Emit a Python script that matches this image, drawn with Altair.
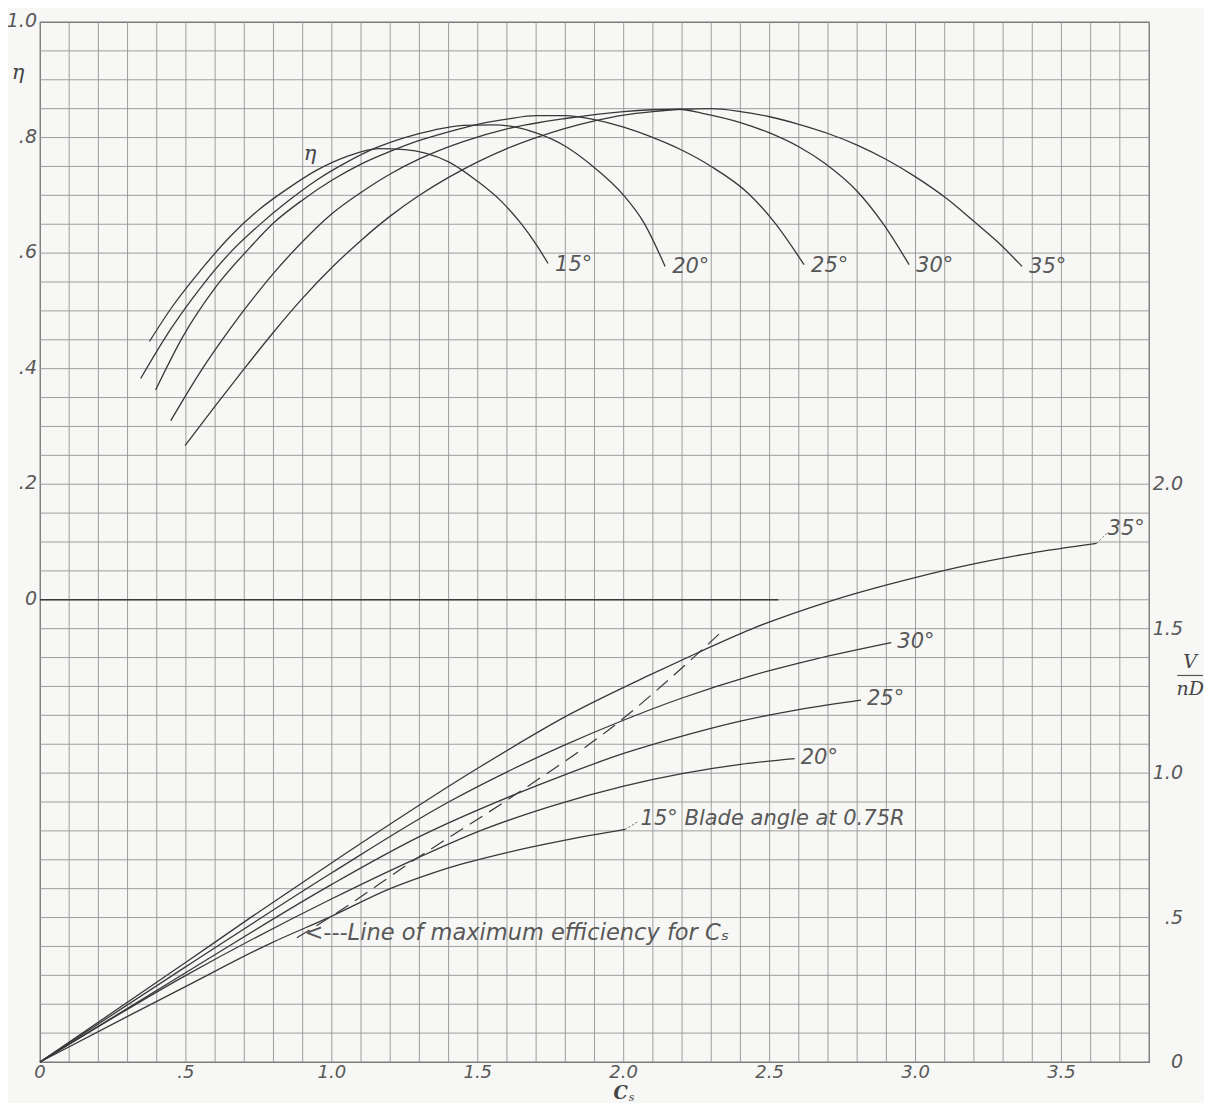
import altair as alt
import pandas as pd

# ---------------- data ----------------
angles = ["15°", "20°", "25°", "30°", "35°"]

# upper family: efficiency eta vs Cs
eta15_cs = [0.375, 0.45, 0.55, 0.65, 0.75, 0.85, 0.95, 1.05, 1.16, 1.25, 1.32, 1.40, 1.50, 1.58, 1.65, 1.70, 1.741]
eta15_v = [0.447, 0.505, 0.570, 0.628, 0.675, 0.712, 0.744, 0.767, 0.781, 0.779, 0.773, 0.758, 0.724, 0.690, 0.650, 0.615, 0.582]

eta20_cs = [0.345, 0.45, 0.55, 0.65, 0.75, 0.85, 0.95, 1.05, 1.15, 1.25, 1.35, 1.45, 1.55, 1.63, 1.70, 1.80, 1.89, 2.00, 2.07, 2.142]
eta20_v = [0.383, 0.470, 0.540, 0.600, 0.648, 0.690, 0.727, 0.757, 0.782, 0.800, 0.813, 0.821, 0.822, 0.818, 0.808, 0.785, 0.752, 0.700, 0.652, 0.577]

eta25_cs = [0.396, 0.49, 0.60, 0.72, 0.80, 0.90, 1.00, 1.10, 1.20, 1.30, 1.40, 1.50, 1.60, 1.70, 1.80, 1.90, 2.00, 2.09, 2.20, 2.30, 2.43, 2.52, 2.618]
eta25_v = [0.363, 0.456, 0.540, 0.610, 0.652, 0.692, 0.726, 0.754, 0.776, 0.795, 0.810, 0.823, 0.832, 0.838, 0.838, 0.831, 0.818, 0.802, 0.778, 0.750, 0.702, 0.651, 0.580]

eta30_cs = [0.448, 0.55, 0.65, 0.72, 0.80, 0.90, 1.00, 1.10, 1.20, 1.30, 1.45, 1.60, 1.80, 2.00, 2.19, 2.27, 2.40, 2.50, 2.60, 2.69, 2.80, 2.89, 2.978]
eta30_v = [0.310, 0.395, 0.468, 0.515, 0.565, 0.620, 0.668, 0.705, 0.737, 0.763, 0.793, 0.815, 0.833, 0.845, 0.849, 0.842, 0.826, 0.808, 0.784, 0.755, 0.707, 0.650, 0.580]

eta35_cs = [0.497, 0.60, 0.70, 0.80, 0.90, 1.00, 1.10, 1.20, 1.30, 1.40, 1.50, 1.60, 1.70, 1.80, 1.90, 2.00, 2.10, 2.20, 2.30, 2.40, 2.50, 2.60, 2.70, 2.80, 2.90, 3.00, 3.10, 3.20, 3.28, 3.365]
eta35_v = [0.267, 0.335, 0.400, 0.463, 0.522, 0.575, 0.622, 0.664, 0.700, 0.731, 0.758, 0.781, 0.800, 0.816, 0.829, 0.839, 0.845, 0.849, 0.850, 0.845, 0.836, 0.823, 0.807, 0.787, 0.762, 0.732, 0.697, 0.655, 0.620, 0.577]

# lower family: V/nD vs Cs
vnd15_cs = [0, 0.30, 0.50, 0.788, 1.00, 1.20, 1.30, 1.40, 1.60, 1.80, 2.005]
vnd15_v = [0, 0.158, 0.262, 0.410, 0.505, 0.600, 0.638, 0.672, 0.725, 0.768, 0.805]

vnd20_cs = [0, 0.50, 1.00, 1.291, 1.52, 1.75, 2.00, 2.20, 2.40, 2.586]
vnd20_v = [0, 0.300, 0.565, 0.705, 0.805, 0.885, 0.955, 0.998, 1.030, 1.050]

vnd25_cs = [0, 0.50, 1.00, 1.30, 1.634, 1.80, 2.00, 2.20, 2.40, 2.60, 2.813]
vnd25_v = [0, 0.310, 0.615, 0.780, 0.929, 0.995, 1.068, 1.128, 1.180, 1.220, 1.253]

vnd30_cs = [0, 0.50, 1.00, 1.40, 1.793, 1.982, 2.20, 2.433, 2.653, 2.917]
vnd30_v = [0, 0.330, 0.655, 0.900, 1.095, 1.176, 1.260, 1.336, 1.394, 1.452]

vnd35_cs = [0, 0.50, 0.72, 1.00, 1.497, 1.816, 2.09, 2.25, 2.433, 2.703, 2.995, 3.204, 3.388, 3.621]
vnd35_v = [0, 0.345, 0.499, 0.690, 1.015, 1.204, 1.340, 1.415, 1.497, 1.594, 1.676, 1.725, 1.760, 1.795]

# dashed line of maximum efficiency
maxeff_cs = [0.88, 1.00, 1.291, 1.634, 1.982, 2.25, 2.336]
maxeff_v = [0.430, 0.505, 0.705, 0.929, 1.176, 1.410, 1.490]

# heavy eta = 0 line
zero_line_cs = [0.0, 2.53]

# grid and tick labels
x_grid_values = [round(i * 0.1, 1) for i in range(39)]
eta_grid_values = [round(-0.8 + i * 0.05, 2) for i in range(37)]
x_label_values = [0, 0.5, 1.0, 1.5, 2.0, 2.5, 3.0, 3.5]
x_label_texts = ["0", ".5", "1.0", "1.5", "2.0", "2.5", "3.0", "3.5"]
eta_label_values = [0, 0.2, 0.4, 0.6, 0.8, 1.0]
eta_label_texts = ["0", ".2", ".4", ".6", ".8", "1.0"]
vnd_label_values = [0, 0.5, 1.0, 1.5, 2.0]
vnd_label_texts = ["0", ".5", "1.0", "1.5", "2.0"]

# ---------------- styling ----------------
FONT = "DejaVu Sans"
SERIF = "DejaVu Serif"
TXT = "#585858"
LINE = "#383838"
GRID = "#949494"
BG = "#f7f7f5"


def curves(xs_list, ys_list, yname):
    rows = []
    for a, xs, ys in zip(angles, xs_list, ys_list):
        for i, (x, y) in enumerate(zip(xs, ys)):
            rows.append({"angle": a, "cs": x, yname: y, "i": i})
    return pd.DataFrame(rows)


eta_df = curves([eta15_cs, eta20_cs, eta25_cs, eta30_cs, eta35_cs],
                [eta15_v, eta20_v, eta25_v, eta30_v, eta35_v], "eta")
vnd_df = curves([vnd15_cs, vnd20_cs, vnd25_cs, vnd30_cs, vnd35_cs],
                [vnd15_v, vnd20_v, vnd25_v, vnd30_v, vnd35_v], "vnd")

eta_end = eta_df.sort_values("i").groupby("angle").tail(1)
vnd_end = vnd_df.sort_values("i").groupby("angle").tail(1)

x_scale = alt.Scale(domain=[0, 3.8], nice=False, zero=False)
eta_scale = alt.Scale(domain=[-0.8, 1.0], nice=False, zero=False)
vnd_scale = alt.Scale(domain=[0, 3.6], nice=False, zero=False)

X = alt.X("cs:Q", scale=x_scale, axis=None)
YE = alt.Y("eta:Q", scale=eta_scale, axis=None)
YV = alt.Y("vnd:Q", scale=vnd_scale, axis=None)


def txt(df, y, **kw):
    base = dict(font=FONT, fontSize=20, fontStyle="italic", color=TXT, baseline="middle")
    base.update(kw)
    return alt.Chart(df).mark_text(**base).encode(x=X, y=y, text="t:N")


# ---------- efficiency group (left scale) ----------
vgrid = alt.Chart(pd.DataFrame({"cs": x_grid_values})).mark_rule(
    color=GRID, strokeWidth=0.9).encode(x=X)
hgrid = alt.Chart(pd.DataFrame({"eta": eta_grid_values})).mark_rule(
    color=GRID, strokeWidth=0.9).encode(y=YE)

eta_lines = alt.Chart(eta_df).mark_line(interpolate="monotone", color=LINE, strokeWidth=1.3).encode(
    x=X, y=YE, detail="angle:N", order="i:Q")

zero_df = pd.DataFrame({"cs": [zero_line_cs[0]], "cs2": [zero_line_cs[1]], "eta": [0.0]})
zero_rule = alt.Chart(zero_df).mark_rule(color="#3a3a3a", strokeWidth=1.4).encode(
    x=X, x2="cs2:Q", y=YE)

eta_end_df = eta_end.rename(columns={"angle": "t"})
eta_labels = txt(eta_end_df, YE, align="left", dx=7, dy=1, fontSize=21)

left_lab_df = pd.DataFrame({"cs": [0.0] * len(eta_label_values), "eta": eta_label_values,
                            "t": eta_label_texts})
left_labels = txt(left_lab_df, YE, align="right", dx=-3, dy=-1, fontSize=19)

bottom_lab_df = pd.DataFrame({"cs": x_label_values, "eta": [-0.8] * len(x_label_values),
                              "t": x_label_texts})
bottom_labels = txt(bottom_lab_df, YE, align="center", baseline="top", dy=2, fontSize=18)

eta_notes_df = pd.DataFrame({"cs": [0.925, -0.075], "eta": [0.772, 0.912], "t": ["η", "η"]})
eta_notes = txt(eta_notes_df, YE, align="center", font=SERIF, fontSize=21, color="#444")

eta_group = alt.layer(vgrid, hgrid, zero_rule, eta_lines, eta_labels, left_labels,
                      bottom_labels, eta_notes)

# ---------- V/nD group (right scale) ----------
vnd_lines = alt.Chart(vnd_df).mark_line(interpolate="monotone", color=LINE, strokeWidth=1.3).encode(
    x=X, y=YV, detail="angle:N", order="i:Q")

maxeff_df = pd.DataFrame({"cs": maxeff_cs, "vnd": maxeff_v, "i": list(range(len(maxeff_cs)))})
maxeff_line = alt.Chart(maxeff_df).mark_line(interpolate="monotone", color="#3a3a3a", strokeWidth=1.2,
                                             strokeDash=[15, 8]).encode(x=X, y=YV, order="i:Q")

end_lab = vnd_end[vnd_end["angle"].isin(["20°", "25°", "30°"])].rename(columns={"angle": "t"})
vnd_labels = txt(end_lab, YV, align="left", dx=6, dy=-1, fontSize=21)

note_df = pd.DataFrame({
    "cs": [3.658, 2.058],
    "vnd": [1.845, 0.840],
    "t": ["35°", "15° Blade angle at 0.75R"],
})
vnd_notes = txt(note_df, YV, align="left", fontSize=21)
maxeff_note_df = pd.DataFrame({"cs": [0.906], "vnd": [0.447],
                               "t": ["<---Line of maximum efficiency for Cₛ"]})
maxeff_note = txt(maxeff_note_df, YV, align="left", fontSize=22.5)

leader_df = pd.DataFrame({"cs": [3.621, 2.005], "vnd": [1.795, 0.805],
                          "cs2": [3.655, 2.052], "vnd2": [1.830, 0.834]})
leaders = alt.Chart(leader_df).mark_rule(color="#666", strokeWidth=1, strokeDash=[2, 2]).encode(
    x=X, y=YV, x2="cs2:Q", y2="vnd2:Q")

right_lab_df = pd.DataFrame({"cs": [3.8] * len(vnd_label_values), "vnd": vnd_label_values,
                             "t": vnd_label_texts})
right_labels = txt(right_lab_df, YV, align="right", dx=34, fontSize=19)

frac_df = pd.DataFrame({"cs": [3.941, 3.941], "vnd": [1.383, 1.290], "t": ["V", "nD"]})
frac_text = txt(frac_df, YV, align="center", font=SERIF, fontSize=19, color="#444")
bar_df = pd.DataFrame({"cs": [3.897], "cs2": [3.985], "vnd": [1.338]})
frac_bar = alt.Chart(bar_df).mark_rule(color="#555", strokeWidth=1.2).encode(x=X, x2="cs2:Q", y=YV)

cs_c_df = pd.DataFrame({"cs": [2.0], "vnd": [-0.111], "t": ["C"]})
cs_c = txt(cs_c_df, YV, align="center", dx=-3, font=SERIF, fontSize=18, fontWeight="bold", color="#444")
cs_s_df = pd.DataFrame({"cs": [2.0], "vnd": [-0.125], "t": ["s"]})
cs_s = txt(cs_s_df, YV, align="center", dx=8, font=SERIF, fontSize=11, color="#444")

vnd_group = alt.layer(vnd_lines, maxeff_line, leaders, vnd_labels, vnd_notes, maxeff_note,
                      right_labels, frac_text, frac_bar, cs_c, cs_s)

chart = alt.layer(eta_group, vnd_group).resolve_scale(y="independent").properties(
    width=1109, height=1040,
    autosize=alt.AutoSizeParams(type="none"),
    padding={"left": 32, "top": 14, "right": 55, "bottom": 41},
    background=BG,
).configure_view(stroke="#6a6a6a", strokeWidth=1.1)

chart.save("out.html", embed_options={"renderer": "svg", "actions": False})
